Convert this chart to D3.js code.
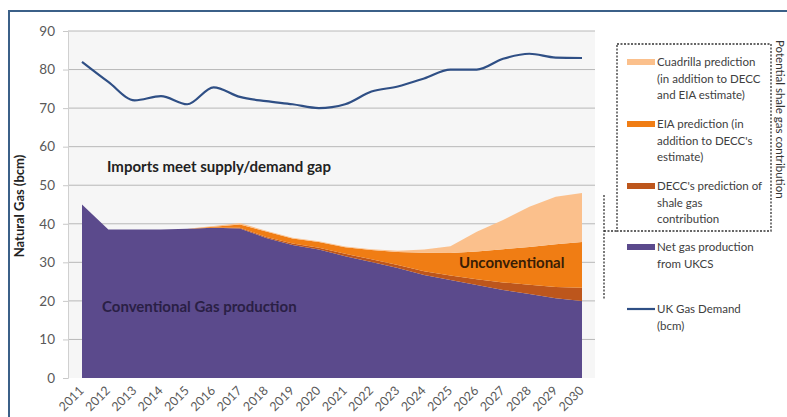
<!DOCTYPE html>
<html>
<head>
<meta charset="utf-8">
<script src="https://cdn.jsdelivr.net/npm/d3@7/dist/d3.min.js"></script>
<style>
  html, body { margin: 0; padding: 0; background: #ffffff; }
  svg { display: block; font-family: Lato, "Open Sans", sans-serif; }
</style>
</head>
<body>
<svg id="chart" width="787" height="417"></svg>
<script>
// ---------------- DATA ----------------
const years = ["2011","2012","2013","2014","2015","2016","2017","2018","2019","2020",
               "2021","2022","2023","2024","2025","2026","2027","2028","2029","2030"];
const demand = [82, 76.8, 72, 73.1, 71, 75.4, 72.9, 71.8, 71, 70,
                71, 74.3, 75.6, 77.7, 80, 80, 82.8, 84.1, 83.1, 83];
const netProduction = [45, 38.5, 38.5, 38.5, 38.7, 39, 38.8, 36.3, 34.5, 33.3,
                       31.6, 30.1, 28.5, 26.7, 25.4, 24.1, 22.8, 21.8, 20.7, 20];
const deccShale = [0, 0, 0, 0, 0, 0, 0.2, 0.3, 0.4, 0.5,
                   0.6, 0.7, 0.8, 1.0, 1.2, 1.5, 2.0, 2.4, 2.9, 3.4];
const eiaExtra = [0, 0, 0, 0, 0, 0.2, 0.8, 1.4, 1.3, 1.5,
                  1.7, 2.4, 3.4, 4.8, 5.8, 7.2, 8.6, 9.8, 11.1, 11.9];
const cuadrillaExtra = [0, 0, 0, 0, 0, 0.2, 0.4, 0.2, 0.2, 0.2,
                        0.2, 0.2, 0.3, 0.8, 1.8, 5.1, 7.6, 10.4, 12.3, 12.7];
const yTicks = [0, 10, 20, 30, 40, 50, 60, 70, 80, 90];
const seriesKeys = ["net", "decc", "eia", "cuadrilla"];
const seriesColors = { net: "#5b4a8c", decc: "#bd561c", eia: "#f07d14", cuadrilla: "#fbc08c" };
const legendItems = [
  { key: "cuadrilla", lines: ["Cuadrilla prediction", "(in addition to DECC", "and EIA estimate)"] },
  { key: "eia", lines: ["EIA prediction (in", "addition to DECC's", "estimate)"] },
  { key: "decc", lines: ["DECC's prediction of", "shale gas", "contribution"] },
  { key: "net", lines: ["Net gas production", "from UKCS"] },
  { key: "demand", lines: ["UK Gas Demand", "(bcm)"] }
];

// ---------------- CHART ----------------
const svg = d3.select("#chart");
const plot = { left: 68, right: 595, top: 31, bottom: 378 };

const x = d3.scalePoint().domain(years).range([82, 582]);
const y = d3.scaleLinear().domain([0, 90]).range([plot.bottom, plot.top]);

// outer frame (top & left border)
svg.append("path")
  .attr("d", "M9,417 L9,11 L787,11")
  .attr("fill", "none").attr("stroke", "#3b6088").attr("stroke-width", 2);

// plot background
svg.append("rect")
  .attr("x", plot.left).attr("y", plot.top)
  .attr("width", plot.right - plot.left).attr("height", plot.bottom - plot.top)
  .attr("fill", "#f6f6f6");

// gridlines
svg.append("g").selectAll("line").data(yTicks.filter(d => d > 0)).join("line")
  .attr("x1", plot.left).attr("x2", plot.right)
  .attr("y1", d => y(d)).attr("y2", d => y(d))
  .attr("stroke", "#b8b8b8").attr("stroke-width", 1);

// stacked areas
const table = years.map((yr, i) => ({
  year: yr, net: netProduction[i], decc: deccShale[i], eia: eiaExtra[i], cuadrilla: cuadrillaExtra[i]
}));
const stacked = d3.stack().keys(seriesKeys)(table);
const area = d3.area()
  .x(d => x(d.data.year))
  .y0(d => y(d[0]))
  .y1(d => y(d[1]));
svg.append("g").selectAll("path").data(stacked).join("path")
  .attr("d", area)
  .attr("fill", d => seriesColors[d.key]);

// demand line
const line = d3.line().x((d, i) => x(years[i])).y(d => y(d)).curve(d3.curveMonotoneX);
svg.append("path").datum(demand)
  .attr("d", line)
  .attr("fill", "none").attr("stroke", "#2f4f85").attr("stroke-width", 2.2);

// y axis
const yAxis = d3.axisLeft(y).tickValues(yTicks).tickSize(5).tickPadding(8);
const gy = svg.append("g").attr("transform", `translate(${plot.left},0)`).call(yAxis);
gy.select(".domain").attr("stroke", "#d0d0d0");
gy.selectAll(".tick line").attr("stroke", "#c8c8c8");
gy.selectAll(".tick text").attr("fill", "#595959").style("font-size", "13.5px")
  .style("font-family", "Lato, sans-serif");

// x axis
const xAxis = d3.axisBottom(x).tickSize(0).tickPadding(0);
const gx = svg.append("g").attr("transform", `translate(0,${plot.bottom})`).call(xAxis);
gx.select(".domain").remove();
gx.selectAll(".tick text")
  .attr("fill", "#595959").style("font-size", "12.5px").style("font-family", "Lato, sans-serif")
  .attr("text-anchor", "end")
  .attr("x", -8).attr("y", 11).attr("dy", 0)
  .attr("transform", "rotate(-45)");

// y axis title
svg.append("text")
  .attr("transform", "translate(24,206) rotate(-90)")
  .attr("text-anchor", "middle")
  .attr("fill", "#222").style("font-size", "13px").style("font-weight", "bold")
  .text("Natural Gas  (bcm)");

// annotations
svg.append("text").attr("x", 107).attr("y", 172)
  .attr("fill", "#222").style("font-size", "15px").style("font-weight", "bold")
  .text("Imports meet supply/demand gap");
svg.append("text").attr("x", 102).attr("y", 312)
  .attr("fill", "#2a1f45").style("font-size", "15px").style("font-weight", "bold")
  .text("Conventional Gas production");
svg.append("text").attr("x", 459).attr("y", 268)
  .attr("fill", "#3a1d05").style("font-size", "15px").style("font-weight", "bold")
  .text("Unconventional");

// legend dashed frame
const dash = "2,1.5";
svg.append("rect").attr("x", 617).attr("y", 44).attr("width", 154).attr("height", 187)
  .attr("fill", "none").attr("stroke", "#333").attr("stroke-width", 1.3).attr("stroke-dasharray", dash);
svg.append("path").attr("d", "M604,195 L604,300 M604,231 L617,231")
  .attr("fill", "none").attr("stroke", "#333").attr("stroke-width", 1.3).attr("stroke-dasharray", dash);

// legend entries
const legendTops = [62, 124, 186, 247, 309];
const lg = svg.append("g");
legendItems.forEach((item, i) => {
  const ty = legendTops[i];
  if (item.key === "demand") {
    lg.append("line").attr("x1", 627).attr("x2", 655).attr("y1", ty).attr("y2", ty)
      .attr("stroke", "#2f4f85").attr("stroke-width", 2.2);
  } else {
    lg.append("rect").attr("x", 627).attr("y", ty - 3).attr("width", 28).attr("height", 6)
      .attr("fill", seriesColors[item.key]);
  }
  const t = lg.append("text").attr("x", 657).attr("y", ty + 4)
    .attr("fill", "#404040").style("font-size", "11.5px");
  item.lines.forEach((ln, j) => {
    t.append("tspan").attr("x", 657).attr("dy", j === 0 ? 0 : 16.7).text(ln);
  });
});

// side rotated label
svg.append("text")
  .attr("transform", "translate(776,40) rotate(90)")
  .attr("fill", "#333").style("font-size", "11.5px")
  .text("Potential shale gas contribution");
</script>
</body>
</html>
